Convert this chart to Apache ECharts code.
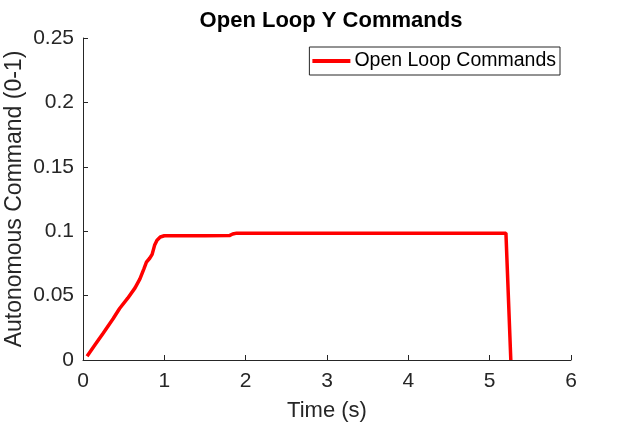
<!DOCTYPE html>
<html>
<head>
<meta charset="utf-8">
<script src="https://cdn.jsdelivr.net/npm/echarts@6/dist/echarts.min.js"></script>
<style>html,body{margin:0;padding:0;background:#fff;}#c{width:632px;height:425px;}</style>
</head>
<body>
<div id="c"></div>
<script>
var timeS = [0.05, 0.15, 0.25, 0.37, 0.45, 0.55, 0.64, 0.70, 0.75, 0.78, 0.82, 0.85, 0.88, 0.91, 0.95, 1.00, 1.20, 1.50, 1.80, 1.84, 1.89, 2.50, 3.50, 4.50, 5.20, 5.26];
var commands = [0.003, 0.012, 0.021, 0.032, 0.040, 0.048, 0.056, 0.063, 0.071, 0.076, 0.079, 0.082, 0.089, 0.093, 0.0955, 0.0965, 0.0965, 0.0965, 0.0966, 0.0978, 0.0985, 0.0985, 0.0985, 0.0985, 0.0985, 0.0];
var xTicks = [0, 1, 2, 3, 4, 5, 6];
var yTicks = [0, 0.05, 0.1, 0.15, 0.2, 0.25];
var seriesName = 'Open Loop Commands';

var data = timeS.map(function (t, i) { return [t, commands[i]]; });
var font = '"Liberation Sans", Arial, Helvetica, sans-serif';
var chart = echarts.init(document.getElementById('c'), null, {renderer: 'canvas'});
chart.setOption({
  animation: false,
  backgroundColor: '#ffffff',
  title: {
    text: 'Open Loop Y Commands',
    left: 326, top: 5, textAlign: 'center',
    textStyle: {fontFamily: font, fontSize: 22, fontWeight: 'bold', color: '#000'}
  },
  legend: {
    right: 72, top: 47,
    data: [seriesName],
    icon: 'rect', itemWidth: 38, itemHeight: 4, itemGap: 4,
    borderColor: '#262626', borderWidth: 1, borderRadius: 0,
    padding: [4, 4, 4, 3],
    textStyle: {fontFamily: font, fontSize: 19.5, color: '#000', padding: [0, 0, 0, -1]}
  },
  grid: {left: 83, right: 61, top: 38, bottom: 65, containLabel: false, outerBoundsMode: 'none'},
  xAxis: {
    type: 'value', min: xTicks[0], max: xTicks[xTicks.length - 1], interval: 1,
    name: 'Time (s)', nameLocation: 'middle', nameGap: 40, nameMoveOverlap: false,
    nameTextStyle: {fontFamily: font, fontSize: 22, color: '#262626'},
    axisLine: {lineStyle: {color: '#262626', width: 1}},
    axisTick: {inside: true, length: 5, lineStyle: {color: '#262626'}},
    axisLabel: {fontFamily: font, fontSize: 21, color: '#262626', margin: 11},
    splitLine: {show: false}
  },
  yAxis: {
    type: 'value', min: yTicks[0], max: yTicks[yTicks.length - 1], interval: 0.05,
    name: 'Autonomous Command (0-1)', nameLocation: 'middle', nameGap: 57, nameMoveOverlap: false,
    nameTextStyle: {fontFamily: font, fontSize: 23, color: '#262626'},
    axisLine: {show: true, lineStyle: {color: '#262626', width: 1}},
    axisTick: {show: true, inside: true, length: 5, lineStyle: {color: '#262626'}},
    axisLabel: {fontFamily: font, fontSize: 21, color: '#262626', margin: 9,
      formatter: function (v) { return String(+v.toFixed(2)); }},
    splitLine: {show: false}
  },
  series: [{
    name: seriesName, type: 'line', data: data,
    showSymbol: false, symbol: 'none',
    lineStyle: {color: '#ff0000', width: 3.5},
    itemStyle: {color: '#ff0000'}
  }]
});
</script>
</body>
</html>
